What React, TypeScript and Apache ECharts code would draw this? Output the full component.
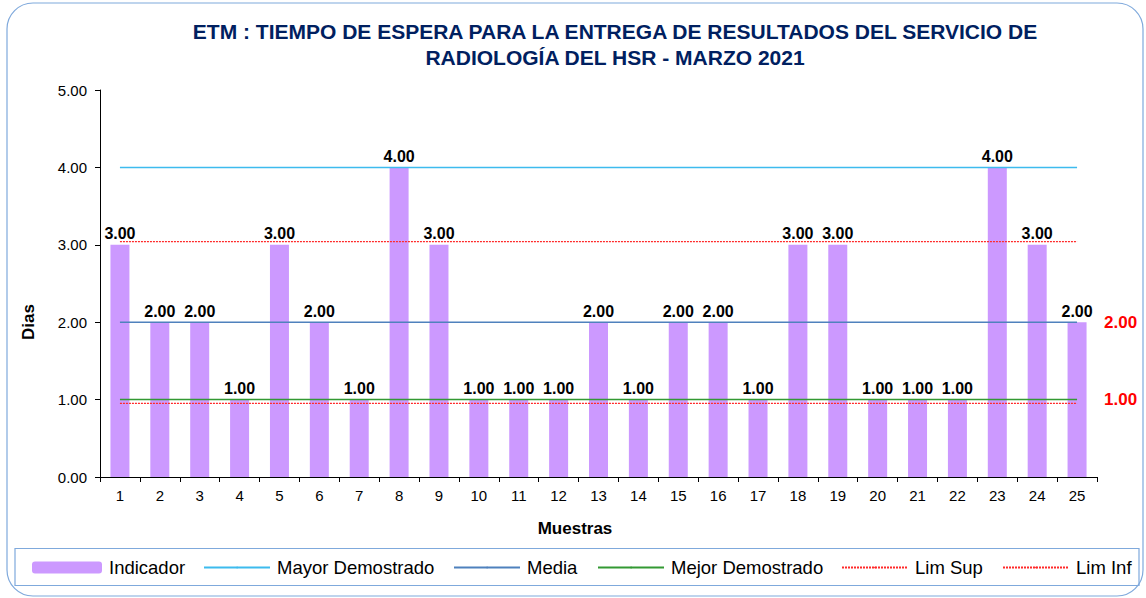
import React, { useEffect, useRef } from "react";
import * as echarts from "echarts";

const categories = ["1","2","3","4","5","6","7","8","9","10","11","12","13","14","15","16","17","18","19","20","21","22","23","24","25"];
const indicador = [3, 2, 2, 1, 3, 2, 1, 4, 3, 1, 1, 1, 2, 1, 2, 2, 1, 3, 3, 1, 1, 1, 4, 3, 2];
const mayorDemostradoValue = 4;
const mediaValue = 2;
const mejorDemostradoValue = 1;
const limSupValue = 3.04;
const limInfValue = 0.95;
const yTicks = [0, 1, 2, 3, 4, 5];

const titleText = "ETM : TIEMPO DE ESPERA PARA LA ENTREGA DE RESULTADOS DEL SERVICIO DE\nRADIOLOGÍA DEL HSR - MARZO 2021";
const FONT = "'Liberation Sans', Arial, sans-serif";

const constSeries = (v: number) => categories.map(() => v);

export default function App() {
  const ref = useRef<HTMLDivElement>(null);
  useEffect(() => {
    if (!ref.current) return;
    const chart = echarts.init(ref.current, null, { renderer: "svg" });
    const legendBase = (name: string, iconLeft: number, w: number, h: number) => ({
      data: [name],
      left: iconLeft - 5,
      top: 553,
      itemWidth: w,
      itemHeight: h,
      itemGap: 0,
      textStyle: { fontSize: 18.5, color: "#000", fontFamily: FONT, padding: [0, 0, 0, 2] },
      selectedMode: false,
    });
    chart.setOption({
      animation: false,
      backgroundColor: "#fff",
      textStyle: { fontFamily: FONT },
      grid: { left: 100, right: 49, top: 90, bottom: 121 },
      legend: [
        legendBase("Indicador", 32, 70, 12),
        legendBase("Mayor Demostrado", 203, 66, 2),
        legendBase("Media", 453, 66, 2),
        legendBase("Mejor Demostrado", 597, 66, 2),
        legendBase("Lim Sup", 841, 66, 2),
        legendBase("Lim Inf", 1002, 66, 2),
      ],
      xAxis: {
        type: "category",
        data: categories,
        axisLine: { lineStyle: { color: "#000", width: 1 } },
        axisTick: { show: true, length: 5, lineStyle: { color: "#000" } },
        axisLabel: { color: "#000", fontSize: 15, margin: 11, fontFamily: FONT },
      },
      yAxis: {
        type: "value",
        min: yTicks[0],
        max: yTicks[yTicks.length - 1],
        interval: 1,
        axisLine: { show: true, lineStyle: { color: "#000", width: 1 } },
        axisTick: { show: true, length: 5, lineStyle: { color: "#000" } },
        splitLine: { show: false },
        axisLabel: {
          color: "#000",
          fontSize: 15,
          margin: 13,
          fontFamily: FONT,
          formatter: (v: number) => v.toFixed(2),
        },
      },
      graphic: [
        {
          type: "rect",
          shape: { x: 7, y: 3, width: 1136, height: 593, r: 26 },
          style: { fill: "none", stroke: "#7fa9dc", lineWidth: 1.2 },
          silent: true,
          z: -10,
        },
        {
          type: "rect",
          shape: { x: 15, y: 548.5, width: 1124, height: 37 },
          style: { fill: "none", stroke: "#7fa9dc", lineWidth: 1.2 },
          silent: true,
        },
        {
          type: "text",
          x: 615,
          y: 44,
          style: {
            text: titleText,
            align: "center",
            verticalAlign: "middle",
            fontSize: 21,
            fontWeight: "bold",
            fontFamily: FONT,
            fill: "#002060",
            lineHeight: 26,
          },
        },
        {
          type: "text",
          x: 28,
          y: 322,
          rotation: Math.PI / 2,
          style: {
            text: "Dias",
            align: "center",
            verticalAlign: "middle",
            fontSize: 17,
            fontWeight: "bold",
            fontFamily: FONT,
            fill: "#000",
          },
        },
        {
          type: "text",
          x: 575,
          y: 528,
          style: {
            text: "Muestras",
            align: "center",
            verticalAlign: "middle",
            fontSize: 17,
            fontWeight: "bold",
            fontFamily: FONT,
            fill: "#000",
          },
        },
      ],
      series: [
        {
          name: "Indicador",
          type: "bar",
          data: indicador,
          barWidth: 19,
          itemStyle: { color: "#cc99ff" },
          label: {
            show: true,
            position: "top",
            distance: 3,
            formatter: (p: any) => Number(p.value).toFixed(2),
            fontSize: 16,
            fontWeight: "bold",
            color: "#000",
            fontFamily: FONT,
          },
          z: 1,
        },
        {
          name: "Mayor Demostrado",
          type: "line",
          data: constSeries(mayorDemostradoValue),
          symbol: "none",
          lineStyle: { color: "#3dbbee", width: 1.5 },
          itemStyle: { color: "#3dbbee" },
          z: 3,
        },
        {
          name: "Media",
          type: "line",
          data: constSeries(mediaValue),
          symbol: "none",
          lineStyle: { color: "#4f81bd", width: 1.5 },
          itemStyle: { color: "#4f81bd" },
          endLabel: {
            show: true,
            distance: 27,
            formatter: (p: any) => Number(p.value).toFixed(2),
            color: "#ff0000",
            fontSize: 17,
            fontWeight: "bold",
            fontFamily: FONT,
          },
          z: 3,
        },
        {
          name: "Mejor Demostrado",
          type: "line",
          data: constSeries(mejorDemostradoValue),
          symbol: "none",
          lineStyle: { color: "#339933", width: 1.5 },
          itemStyle: { color: "#339933" },
          endLabel: {
            show: true,
            distance: 27,
            formatter: (p: any) => Number(p.value).toFixed(2),
            color: "#ff0000",
            fontSize: 17,
            fontWeight: "bold",
            fontFamily: FONT,
          },
          z: 3,
        },
        {
          name: "Lim Sup",
          type: "line",
          data: constSeries(limSupValue),
          symbol: "none",
          lineStyle: { color: "#ff2a2a", width: 1.2, type: [2, 1] },
          itemStyle: { color: "#ff2a2a" },
          z: 3,
        },
        {
          name: "Lim Inf",
          type: "line",
          data: constSeries(limInfValue),
          symbol: "none",
          lineStyle: { color: "#ff2a2a", width: 1.2, type: [2, 1] },
          itemStyle: { color: "#ff2a2a" },
          z: 3,
        },
      ],
    });
    return () => chart.dispose();
  }, []);
  return (
    <div
      ref={ref}
      style={{ position: "absolute", left: 0, top: 0, width: 1146, height: 598, background: "#fff" }}
    />
  );
}
